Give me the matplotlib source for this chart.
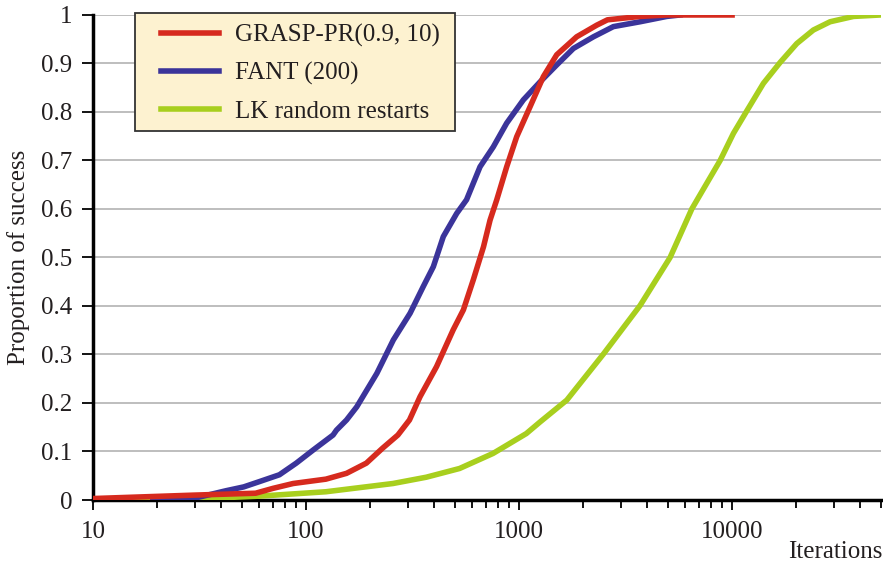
import matplotlib
matplotlib.use("Agg")
import matplotlib.pyplot as plt
from matplotlib.patches import Rectangle
from matplotlib.ticker import FixedLocator, FixedFormatter, NullFormatter

plt.rcParams['font.family'] = ['Liberation Serif', 'DejaVu Serif']

# GRASP-PR(0.9, 10)
grasp_x = [10, 29.5, 58, 70, 87, 124, 155, 192, 229, 270, 306, 343, 410, 491, 548, 610, 681,
           731, 786, 875, 975, 1127, 1301, 1503, 1864, 2316, 2600, 3700, 4935, 10000]
grasp_y = [0.003, 0.010, 0.014, 0.024, 0.034, 0.043, 0.055, 0.076, 0.107, 0.134, 0.165, 0.213,
           0.275, 0.351, 0.392, 0.454, 0.522, 0.577, 0.619, 0.687, 0.749, 0.811, 0.873, 0.918,
           0.955, 0.979, 0.990, 0.997, 1.0, 1.0]

# FANT (200)
fant_x = [19.1, 29.5, 42, 51, 60.5, 75, 90, 108, 134, 139, 155, 173, 215, 257, 308, 355, 396,
          441, 510, 567, 656, 757, 875, 1048, 1255, 1503, 1800, 2235, 2772, 3700, 4935, 5700]
fant_y = [0.0, 0.003, 0.019, 0.027, 0.038, 0.052, 0.076, 0.103, 0.134, 0.144, 0.165, 0.192,
          0.261, 0.330, 0.385, 0.440, 0.481, 0.543, 0.591, 0.619, 0.687, 0.728, 0.777, 0.825,
          0.862, 0.897, 0.931, 0.955, 0.976, 0.986, 0.997, 1.0]

# LK random restarts
lk_x = [10, 29.5, 60.5, 124, 256, 367, 526, 755, 1082, 1256, 1676, 2490, 3700, 5117, 6470,
        7610, 8790, 10150, 11720, 14030, 16800, 20120, 24080, 28840, 37150, 49800]
lk_y = [0.001, 0.002, 0.008, 0.017, 0.034, 0.047, 0.065, 0.096, 0.137, 0.161, 0.206, 0.301,
        0.401, 0.500, 0.600, 0.653, 0.700, 0.756, 0.802, 0.859, 0.902, 0.941, 0.969, 0.986,
        0.997, 1.0]

x_ticks = [10, 100, 1000, 10000]
x_labels = ['10', '100', '1000', '10000']
y_ticks = [0, 0.1, 0.2, 0.3, 0.4, 0.5, 0.6, 0.7, 0.8, 0.9, 1]
y_labels = ['0', '0.1', '0.2', '0.3', '0.4', '0.5', '0.6', '0.7', '0.8', '0.9', '1']

text_color = '#231f20'
fs = 18

fig = plt.figure(figsize=(8.83, 5.63), dpi=100)
ax = fig.add_axes([0.1053, 0.1119, 0.8924, 0.8615])

ax.plot(lk_x, lk_y, color='#a8cf1e', lw=4, label='LK random restarts', zorder=3)
ax.plot(fant_x, fant_y, color='#3b349a', lw=4, label='FANT (200)', zorder=4)
ax.plot(grasp_x, grasp_y, color='#d62a1e', lw=4, label='GRASP-PR(0.9, 10)', zorder=5)

ax.set_xscale('log')
ax.set_xlim(10, 50000)
ax.set_ylim(0, 1)

ax.xaxis.set_major_locator(FixedLocator(x_ticks))
ax.xaxis.set_major_formatter(FixedFormatter(x_labels))
minor = [m * 10 ** e for e in range(1, 5) for m in range(2, 10) if m * 10 ** e <= 50000]
ax.xaxis.set_minor_locator(FixedLocator(minor))
ax.xaxis.set_minor_formatter(NullFormatter())
ax.yaxis.set_major_locator(FixedLocator(y_ticks))
ax.yaxis.set_major_formatter(FixedFormatter(y_labels))

ax.grid(axis='y', color='#b3b3b3', lw=1.2, zorder=0)
ax.set_axisbelow(True)

for s in ['top', 'right']:
    ax.spines[s].set_visible(False)
for s in ['left', 'bottom']:
    ax.spines[s].set_linewidth(2.5)
    ax.spines[s].set_color('black')

ax.tick_params(axis='y', which='major', direction='out', length=8, width=1.3,
               labelsize=fs, labelcolor=text_color, pad=7)
ax.tick_params(axis='x', which='major', direction='out', length=7, width=1.3,
               labelsize=fs, labelcolor=text_color, pad=8)
ax.tick_params(axis='x', which='minor', direction='out', length=6, width=1.3)

ax.set_ylabel('Proportion of success', fontsize=fs, color=text_color, labelpad=8)
fig.text(0.999, 1 - 552 / 563, 'Iterations', fontsize=fs, color=text_color,
         ha='right', va='center')

# legend box drawn separately so the inner margins can differ
box = Rectangle((0.0533, 0.7608), 0.406, 0.2433, transform=ax.transAxes,
                facecolor='#fdf2d0', edgecolor='#333333', lw=1.3, clip_on=False, zorder=9)
ax.add_patch(box)

handles, labels = ax.get_legend_handles_labels()
leg = ax.legend(handles[::-1], labels[::-1], loc='upper left', bbox_to_anchor=(0.0863, 0.9814),
                fontsize=fs, frameon=False, handlelength=2.32, handletextpad=0.64,
                borderpad=0, labelspacing=0.6, borderaxespad=0)
for t in leg.get_texts():
    t.set_color(text_color)
leg.set_zorder(10)

fig.savefig('out.png', dpi=100)
